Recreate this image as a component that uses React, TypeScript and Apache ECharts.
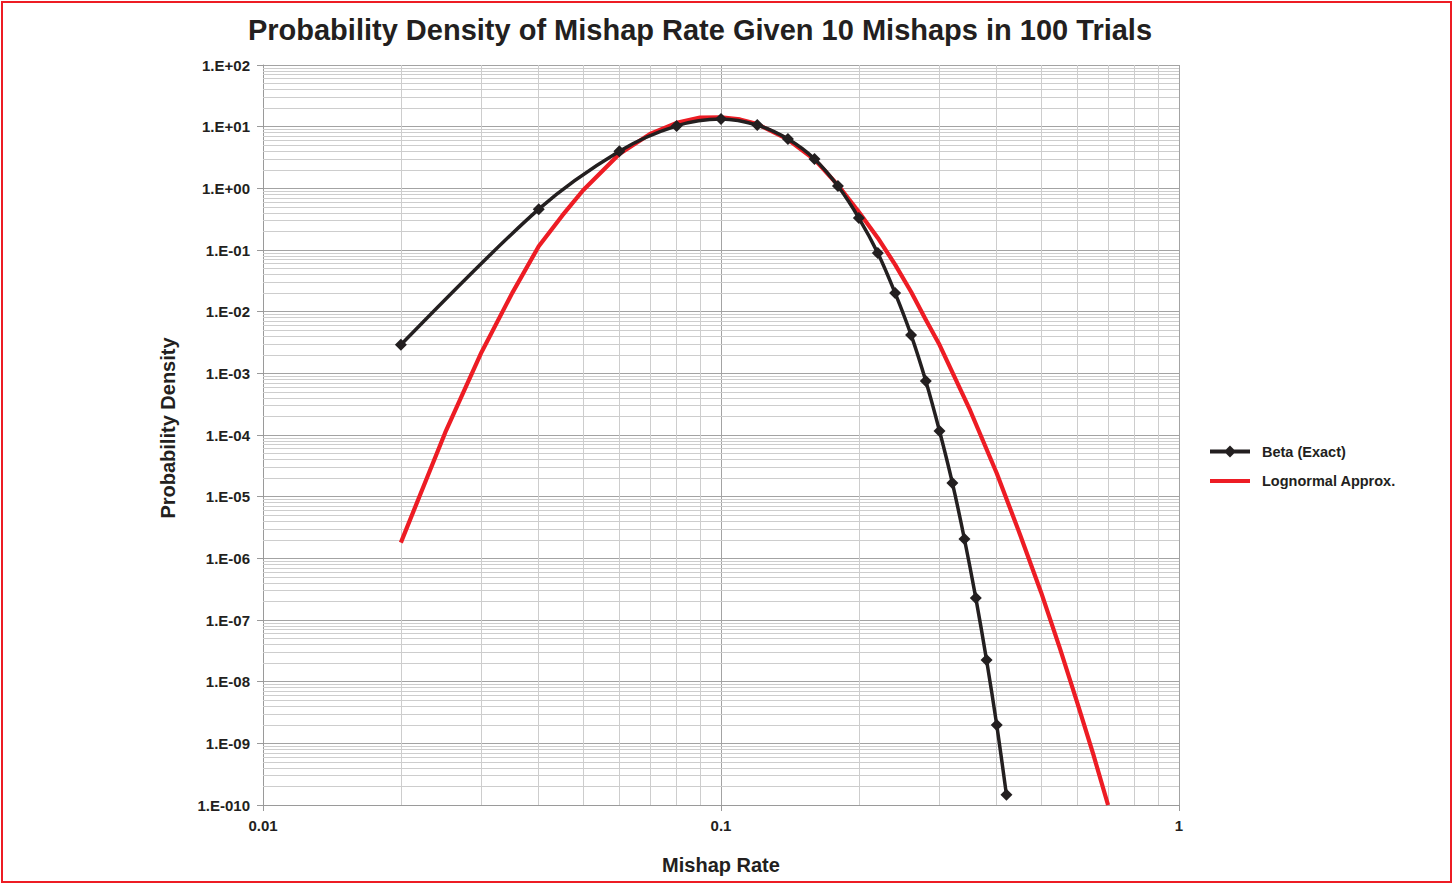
import React, { useEffect, useRef } from "react";
import * as echarts from "echarts";

const FONT = '"Liberation Sans", Arial, Helvetica, sans-serif';

// Beta (Exact)
const betaX = [0.02, 0.04, 0.06, 0.08, 0.1, 0.12, 0.14, 0.16, 0.18, 0.2, 0.22, 0.24, 0.26, 0.28, 0.3, 0.32, 0.34, 0.36, 0.38, 0.4, 0.42];
const betaY = [2.9e-3, 0.46, 4.0, 10.3, 13.3, 10.6, 6.3, 3.0, 1.09, 0.33, 0.089, 0.020, 4.2e-3, 7.5e-4, 1.16e-4, 1.67e-5, 2.06e-6, 2.28e-7, 2.25e-8, 1.99e-9, 1.46e-10];

// Lognormal Approx.
const logX = [0.02, 0.025, 0.03, 0.035, 0.04, 0.045, 0.05, 0.06, 0.07, 0.08, 0.09, 0.1, 0.11, 0.12, 0.14, 0.16, 0.18, 0.2, 0.22, 0.24, 0.26, 0.28, 0.3, 0.35, 0.4, 0.45, 0.5, 0.55, 0.6, 0.65, 0.7];
const logY = [1.8e-6, 1.1e-4, 2.2e-3, 0.020, 0.115, 0.36, 0.93, 3.6, 7.6, 11.5, 14.0, 14.2, 13.1, 11.0, 6.2, 2.94, 1.13, 0.413, 0.157, 0.058, 0.021, 7.4e-3, 2.9e-3, 2.5e-4, 2.4e-5, 2.4e-6, 2.8e-7, 3.4e-8, 4.5e-9, 6.6e-10, 1.0e-10];

// Tick labels
const yTickExp = [-10, -9, -8, -7, -6, -5, -4, -3, -2, -1, 0, 1, 2];
const yTickLabels = ["1.E-010", "1.E-09", "1.E-08", "1.E-07", "1.E-06", "1.E-05", "1.E-04", "1.E-03", "1.E-02", "1.E-01", "1.E+00", "1.E+01", "1.E+02"];
const xTickExp = [-2, -1, 0];
const xTickLabels = ["0.01", "0.1", "1"];

const seriesNames = ["Beta (Exact)", "Lognormal Approx."];
const titleText = "Probability Density of Mishap Rate Given 10 Mishaps in 100 Trials";
const xName = "Mishap Rate";
const yName = "Probability Density";

export default function App() {
  const ref = useRef<HTMLDivElement>(null);
  useEffect(() => {
    const chart = echarts.init(ref.current!, null, { renderer: "svg" });

    const xMinor: number[] = [];
    for (const d of [-2, -1]) for (let k = 2; k <= 9; k++) xMinor.push(Number((k * Math.pow(10, d)).toPrecision(3)));
    const yMinor: number[] = [];
    for (let d = -10; d <= 1; d++) for (let k = 2; k <= 9; k++) yMinor.push(Number((k * Math.pow(10, d)).toPrecision(3)));

    const labelFor = (v: number, exps: number[], labels: string[]) => {
      const e = Math.round(Math.log10(v));
      const i = exps.indexOf(e);
      return i >= 0 ? labels[i] : "";
    };

    const textColor = "#231f20";
    const black = "#231f20";
    const red = "#ed1c24";

    const option: any = {
      animation: false,
      backgroundColor: "#ffffff",
      textStyle: { fontFamily: FONT },
      grid: { left: 263, right: 274, top: 65, bottom: 79, show: false },
      xAxis: {
        type: "log",
        logBase: 10,
        min: 0.01,
        max: 1,
        interval: 1,
        axisLine: { show: true, lineStyle: { color: "#9a9a9a", width: 1 } },
        axisTick: { show: true, length: 6, lineStyle: { color: "#9a9a9a" } },
        axisLabel: {
          color: textColor,
          fontSize: 15,
          fontWeight: "bold",
          fontFamily: FONT,
          margin: 13,
          formatter: (v: number) => labelFor(v, xTickExp, xTickLabels),
        },
        splitLine: { show: true, lineStyle: { color: "#a3a3a3", width: 1 } },
        minorTick: { show: false },
        minorSplitLine: { show: false },
      },
      yAxis: {
        type: "log",
        logBase: 10,
        min: 1e-10,
        max: 100,
        interval: 1,
        axisLine: { show: true, lineStyle: { color: "#9a9a9a", width: 1 } },
        axisTick: { show: true, length: 6, lineStyle: { color: "#9a9a9a" } },
        axisLabel: {
          color: textColor,
          fontSize: 15,
          fontWeight: "bold",
          fontFamily: FONT,
          margin: 13,
          formatter: (v: number) => labelFor(v, yTickExp, yTickLabels),
        },
        splitLine: { show: true, lineStyle: { color: "#a3a3a3", width: 1 } },
        minorTick: { show: false },
        minorSplitLine: { show: false },
      },
      legend: {
        orient: "vertical",
        left: 1205,
        top: 439,
        itemWidth: 40,
        itemHeight: 12,
        itemGap: 14.5,
        data: [
          {
            name: seriesNames[0],
            icon: "path://M0,4 L16,4 L20,0 L24,4 L40,4 L40,8 L24,8 L20,12 L16,8 L0,8 Z",
            itemStyle: { color: black },
          },
          {
            name: seriesNames[1],
            icon: "path://M0,0 L40,0 L40,4 L0,4 Z",
            itemStyle: { color: red },
          },
        ],
        textStyle: { color: textColor, fontSize: 14.5, fontWeight: "bold", fontFamily: FONT, padding: [0, 0, 0, 7] },
      },
      graphic: [
        {
          type: "rect",
          shape: { x: 2, y: 2, width: 1449, height: 880 },
          style: { fill: "none", stroke: red, lineWidth: 2 },
          silent: true,
        },
        {
          type: "text",
          x: 700,
          y: 30,
          style: {
            text: titleText,
            fill: textColor,
            font: `bold 29px ${FONT}`,
            textAlign: "center",
            textVerticalAlign: "middle",
          },
        },
        {
          type: "text",
          x: 721,
          y: 865,
          style: {
            text: xName,
            fill: textColor,
            font: `bold 20px ${FONT}`,
            textAlign: "center",
            textVerticalAlign: "middle",
          },
        },
        {
          type: "text",
          x: 168,
          y: 428,
          rotation: Math.PI / 2,
          style: {
            text: yName,
            fill: textColor,
            font: `bold 20px ${FONT}`,
            textAlign: "center",
            textVerticalAlign: "middle",
          },
        },
      ],
      series: [
        {
          name: "minor-grid",
          type: "line",
          data: [[0.5, 1e-20]],
          symbol: "none",
          lineStyle: { opacity: 0 },
          silent: true,
          z: 1,
          markLine: {
            silent: true,
            z: 1,
            precision: 14,
            symbol: ["none", "none"],
            label: { show: false },
            emphasis: { disabled: true },
            animation: false,
            lineStyle: { color: "#cdcdcd", width: 1, type: "solid" },
            data: [
              ...xMinor.map((v) => ({ xAxis: v })),
              ...yMinor.map((v) => ({ yAxis: v })),
            ],
          },
        },
        {
          name: seriesNames[1],
          type: "line",
          data: logX.map((x, i) => [x, logY[i]]),
          smooth: false,
          symbol: "none",
          lineStyle: { color: red, width: 4.2, join: "round", cap: "butt" },
          itemStyle: { color: red },
          z: 3,
        },
        {
          name: seriesNames[0],
          type: "line",
          data: betaX.map((x, i) => [x, betaY[i]]),
          smooth: 0.3,
          symbol: "diamond",
          symbolSize: 12,
          showSymbol: true,
          lineStyle: { color: black, width: 3.5 },
          itemStyle: { color: black },
          z: 4,
        },
      ],
    };
    chart.setOption(option);
    return () => chart.dispose();
  }, []);
  return (
    <div
      ref={ref}
      style={{ position: "fixed", left: 0, top: 0, width: 1453, height: 884, background: "#fff" }}
    />
  );
}
